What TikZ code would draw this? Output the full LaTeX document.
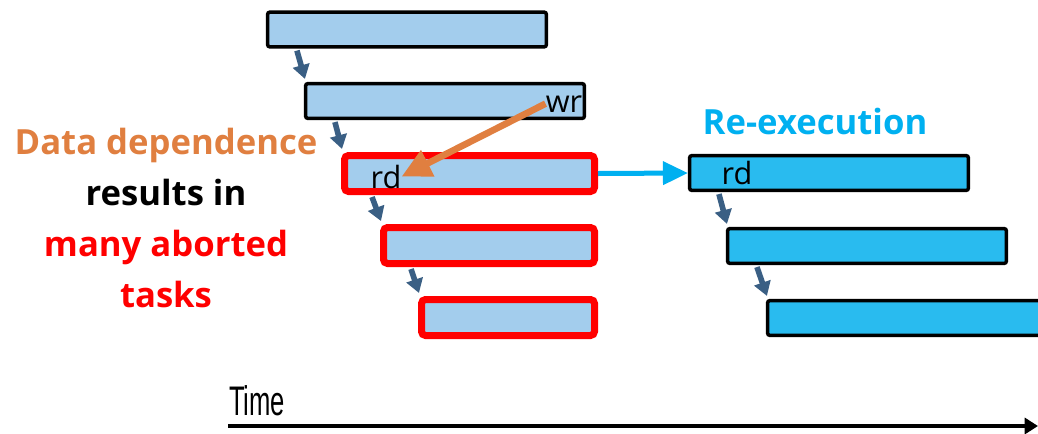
\documentclass[tikz,border=0pt]{standalone}
\usepackage{fontspec}
\setmainfont{Open Sans}
\setsansfont{Liberation Sans}
\usetikzlibrary{arrows.meta,calc}
\definecolor{taskblue}{HTML}{A3CDED}
\definecolor{redoblue}{HTML}{29BBEF}
\definecolor{deparrow}{HTML}{3A5F84}
\definecolor{raworange}{HTML}{E07F40}
\definecolor{redocyan}{HTML}{00B0F0}

\begin{document}
\begin{tikzpicture}[x=0.75pt,y=-0.75pt,
  task/.style={draw=black,line width=2.6pt,fill=taskblue,rounded corners=1.5pt,inner sep=0pt,minimum width=209pt,minimum height=26pt},
  abort/.style={draw=red,line width=5.25pt,fill=taskblue,rounded corners=3pt,inner sep=0pt,minimum height=27pt},
  redo/.style={task,fill=redoblue},
  order/.style={draw=deparrow,line width=4.2pt,-{Triangle[length=10.5pt,width=12.5pt]}},
  lbl/.style={font=\fontsize{23}{28}\selectfont,inner sep=0pt}]
\clip (0,0) rectangle (1038,433);
% aborted run
\node[task] (t1) at (407,29.5) {};
\node[task] (t2) at (445,101) {};
\node[abort,minimum width=187.5pt] (t3) at (469.5,173.5) {};
\node[abort,minimum width=158.25pt] (t4) at (489,245.5) {};
\node[abort,minimum width=129.75pt] (t5) at (508,317.5) {};
% re-executed tasks
\node[redo] (r1) at (829,173) {};
\node[redo] (r2) at (867,246) {};
\node[redo] (r3) at (907,318) {};
\node[lbl,anchor=base] (wr) at (564,112) {wr};
\node[lbl,anchor=base] (rd) at (386,188) {rd};
\node[lbl,anchor=base] (rd2) at (737,184) {rd};
\foreach \a/\b in {t1/t2,t2/t3,t3/t4,t4/t5,r1/r2,r2/r3}
  \draw[order] ($(\a.south west)+(31,2)$) -- ($(\b.north west)+(1,-3)$);
\draw[raworange,line width=5pt,-{Triangle[length=22pt,width=21pt]}] (wr.west) -- (rd.east);
\draw[redocyan,line width=3.75pt,-{Triangle[length=18.75pt,width=17pt]}] (t3.east) -- (r1.west);
\node[text=redocyan,font=\bfseries\fontsize{26}{30}\selectfont] (redotxt) at (815,121) {Re-execution};
\node[align=center,anchor=north,inner sep=0pt,font=\bfseries\fontsize{26}{38.25}\selectfont] (msg) at (166,128)
  {\textcolor{raworange}{Data dependence}\\ results in\\ \textcolor{red}{many aborted}\\ \textcolor{red}{tasks}};
% time axis
\node[font=\sffamily\fontsize{31}{32}\selectfont,xscale=0.62,anchor=base west,inner sep=0pt] (time) at (229,415) {Time};
\coordinate (t0) at (228,426);
\coordinate (tend) at (1038,426);
\draw[line width=3pt,-{Triangle[length=10pt,width=12pt]}] (t0) -- (tend);
\end{tikzpicture}
\end{document}
